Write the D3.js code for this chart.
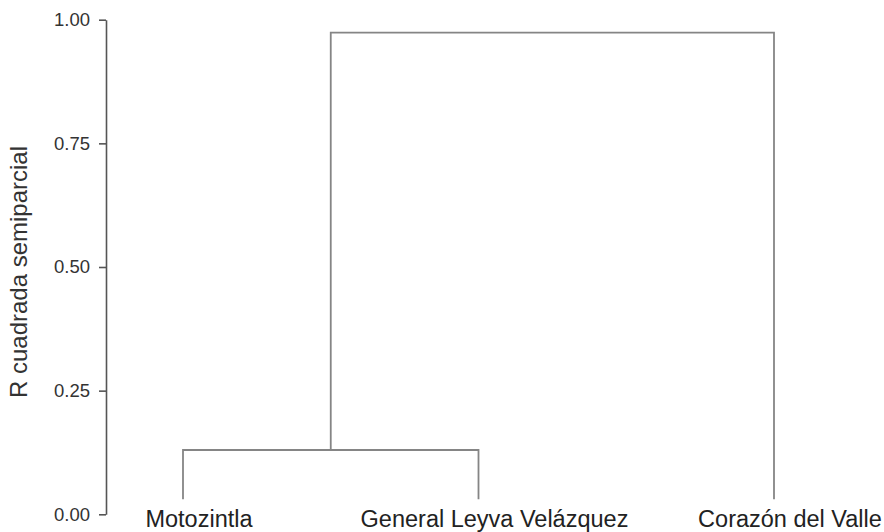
<!DOCTYPE html>
<html>
<head>
<meta charset="utf-8">
<script src="https://cdn.jsdelivr.net/npm/d3@7"></script>
<style>
  html, body { margin: 0; padding: 0; background: #fff; }
  svg { display: block; }
</style>
</head>
<body>
<svg id="chart" width="884" height="532"></svg>
<script>
// ---- data ----
const leaves = ["Motozintla", "General Leyva Velázquez", "Corazón del Valle"];
// merges: children (leaf names or merge ids) and joining height (semipartial R²)
const mergeIds = ["M1", "M2"];
const mergeLeft = ["Motozintla", "M1"];
const mergeRight = ["General Leyva Velázquez", "Corazón del Valle"];
const mergeHeights = [0.13, 0.974];
const yTicks = [0, 0.25, 0.5, 0.75, 1.0];
const yTitle = "R cuadrada semiparcial";

// ---- layout ----
const svg = d3.select("#chart");
const x = d3.scalePoint().domain(leaves).range([183, 774]);
const y = d3.scaleLinear().domain([0, 1]).range([514.3, 19.7]);
const leafGap = 15;           // leaves stop short of the baseline
const lineColor = "#858585";
const font = "'Liberation Sans', Arial, Helvetica, sans-serif";

// y axis
const yAxis = d3.axisLeft(y).tickValues(yTicks).tickFormat(d3.format(".2f"))
  .tickSize(7).tickSizeOuter(0).tickPadding(9);
const ga = svg.append("g").attr("transform", "translate(106,0)").call(yAxis);
ga.select(".domain").attr("stroke", "#555").attr("stroke-width", 1.6);
ga.selectAll(".tick line").attr("stroke", "#555").attr("stroke-width", 1.6);
ga.selectAll(".tick text").attr("fill", "#333").style("font-family", font).style("font-size", "18.5px");

// y title
svg.append("text")
  .attr("transform", `translate(26.5,${(y(0) + y(1)) / 2 + 5}) rotate(-90)`)
  .attr("text-anchor", "middle")
  .attr("fill", "#333")
  .style("font-family", font).style("font-size", "24px")
  .text(yTitle);

// compute node positions
const pos = {};
leaves.forEach(l => { pos[l] = { x: x(l), h: 0, leaf: true }; });
mergeIds.forEach((id, i) => {
  const a = pos[mergeLeft[i]], b = pos[mergeRight[i]];
  pos[id] = { x: (a.x + b.x) / 2, h: mergeHeights[i], leaf: false };
});

const g = svg.append("g").attr("fill", "none").attr("stroke", lineColor).attr("stroke-width", 1.8);
const bottomY = n => n.leaf ? y(0) - leafGap : y(n.h);
mergeIds.forEach((id, i) => {
  const a = pos[mergeLeft[i]], b = pos[mergeRight[i]], m = pos[id];
  const path = d3.path();
  path.moveTo(a.x, bottomY(a));
  path.lineTo(a.x, y(m.h));
  path.lineTo(b.x, y(m.h));
  path.lineTo(b.x, bottomY(b));
  g.append("path").attr("d", path.toString()).attr("stroke-linejoin", "miter");
});

// leaf labels
svg.append("g").selectAll("text").data(leaves).join("text")
  .attr("x", d => x(d) + 16)
  .attr("y", 527)
  .attr("text-anchor", "middle")
  .attr("fill", "#222")
  .style("font-family", font).style("font-size", "23.5px")
  .text(d => d);
</script>
</body>
</html>
